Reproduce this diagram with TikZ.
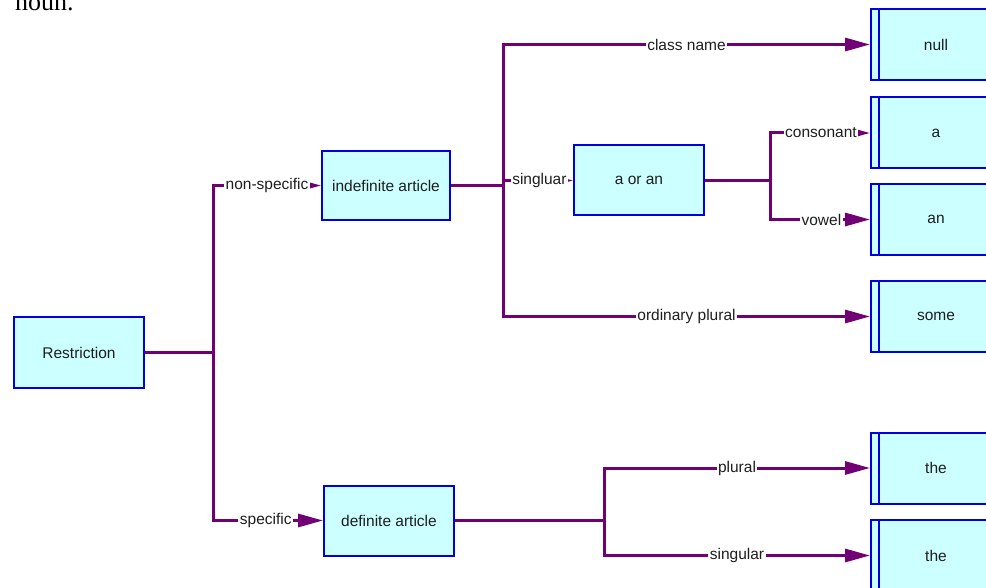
\documentclass[tikz,border=0pt]{standalone}
\usepackage{fontspec}
\setmainfont{Liberation Sans}
\newfontfamily\headserif{Liberation Serif}
\usetikzlibrary{arrows.meta}
\definecolor{linkpurple}{RGB}{112,0,116}
\definecolor{boxblue}{RGB}{0,0,225}
\definecolor{boxfill}{RGB}{204,255,255}
\definecolor{inkgray}{RGB}{30,30,30}
\tikzset{
  termbox/.style={draw=boxblue, line width=2pt, fill=boxfill, minimum width=130pt,
    minimum height=70pt, inner sep=0pt, text=inkgray,
    font=\fontsize{15.5}{18}\selectfont},
  leafbox/.style={termbox, minimum height=71pt},
  link/.style={draw=linkpurple, line width=3pt},
  arrowlink/.style={link, -{Triangle[length=25pt,width=13pt]}},
  lbl/.style={fill=white, inner xsep=1.5pt, inner ysep=3pt, text=inkgray,
    font=\fontsize{15.5}{18}\selectfont},
}
\begin{document}
\begin{tikzpicture}[x=1pt,y=-1pt]
\clip (0,0) rectangle (986,588);
\fill[white] (0,0) rectangle (986,588);

% heading line running in from above
\node[anchor=base west, inner sep=0pt, font=\headserif\fontsize{26}{30}\selectfont] (heading) at (15,10.5) {noun.};

% category boxes
\node[termbox] (restr) at (79,352.5) {Restriction};
\node[termbox, minimum width=128pt, minimum height=69pt] (indef) at (386,185.5) {indefinite article};
\node[termbox] (def) at (389,520.5) {definite article};
\node[termbox] (aoran) at (639,180.5) {a or an};

% result boxes (double left edge)
\node[leafbox] (null) at (936,44.5) {null};
\node[leafbox] (a) at (936,133) {a};
\node[leafbox] (an) at (936,219.5) {an};
\node[leafbox] (some) at (936,316.5) {some};
\node[leafbox] (the1) at (936,468) {the};
\node[leafbox] (the2) at (936,555.5) {the};
\foreach \n in {null,a,an,some,the1,the2}
  \draw[draw=boxblue, line width=2pt] ([xshift=9pt]\n.north west) -- ([xshift=9pt]\n.south west);

% junction points, level with the box each one leaves
\path (restr.east) ++(68,0) coordinate (j1);
\path (indef.east) ++(52,0) coordinate (j2);
\path (aoran.east) ++(65,0) coordinate (j3);
\path (def.east) ++(149,0) coordinate (j4);

% Restriction branch
\draw[link] (restr.east) -- (j1);
\draw[arrowlink] (j1) |- (indef.west) node[lbl,pos=0.75] (l1) {non-specific};
\draw[arrowlink] (j1) |- (def.west) node[lbl,pos=0.74] (l2) {specific};

% indefinite article branch
\draw[link] (indef.east) -- (j2);
\draw[arrowlink] (j2) |- (null.west) node[lbl,pos=0.75] (l3) {class name};
\draw[arrowlink] (j2) |- (aoran.west) node[lbl,pos=0.76] (l4) {singluar};
\draw[arrowlink] (j2) |- (some.west) node[lbl,pos=0.75] (l5) {ordinary plural};

% a / an branch
\draw[link] (aoran.east) -- (j3);
\draw[arrowlink] (j3) |- (a.west) node[lbl,pos=0.755] (l6) {consonant};
\draw[arrowlink] (j3) |- (an.west) node[lbl,pos=0.757] (l7) {vowel};

% definite article branch
\draw[link] (def.east) -- (j4);
\draw[arrowlink] (j4) |- (the1.west) node[lbl,pos=0.75] (l8) {plural};
\draw[arrowlink] (j4) |- (the2.west) node[lbl,pos=0.75] (l9) {singular};
\end{tikzpicture}
\end{document}
